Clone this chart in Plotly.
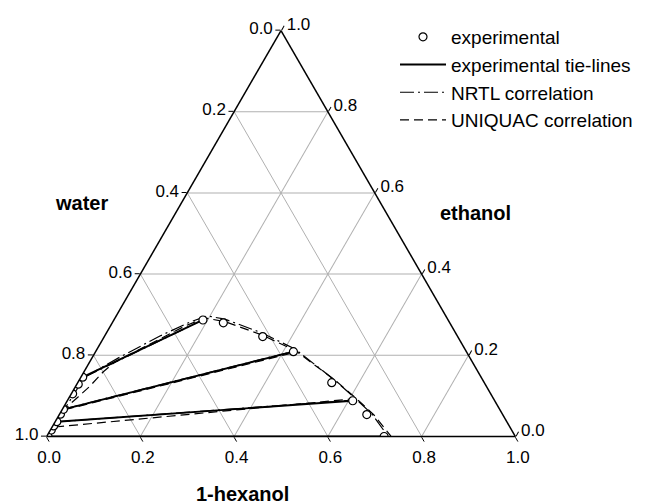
import plotly.graph_objects as go

# ---- data (mass fractions): a = ethanol, b = water, c = 1-hexanol ----
# experimental binodal points
exp_ethanol = [0.000, 0.016, 0.026, 0.0365, 0.055, 0.067, 0.105, 0.129, 0.146,
               0.287, 0.280, 0.246, 0.209, 0.1325, 0.088, 0.054, 0.000]
exp_hexanol = [0.003, 0.002, 0.002, 0.0035, 0.002, 0.0025, 0.003, 0.003, 0.004,
               0.190, 0.237, 0.338, 0.422, 0.542, 0.609, 0.656, 0.720]

# experimental tie-lines (aqueous end, organic end)
tie_aq_ethanol = [0.146, 0.067, 0.0365, 0.000]
tie_aq_hexanol = [0.004, 0.0025, 0.0035, 0.003]
tie_org_ethanol = [0.287, 0.209, 0.088, 0.000]
tie_org_hexanol = [0.190, 0.422, 0.609, 0.720]

# NRTL correlation binodal
nrtl_ethanol = [0.000, 0.030, 0.060, 0.100, 0.146, 0.196, 0.2475, 0.282, 0.297,
                0.289, 0.255, 0.2155, 0.139, 0.0924, 0.0554, 0.001]
nrtl_hexanol = [0.002, 0.003, 0.004, 0.006, 0.008, 0.059, 0.118, 0.165, 0.194,
                0.236, 0.332, 0.422, 0.545, 0.6137, 0.6663, 0.7275]
# NRTL calculated tie-lines
nrtl_tie_aq_ethanol = [0.146, 0.068, 0.036]
nrtl_tie_aq_hexanol = [0.007, 0.004, 0.003]
nrtl_tie_org_ethanol = [0.289, 0.211, 0.090]
nrtl_tie_org_hexanol = [0.192, 0.425, 0.612]

# UNIQUAC correlation binodal
uniq_ethanol = [0.000, 0.016, 0.033, 0.058, 0.080, 0.0973, 0.1244, 0.1589, 0.1835,
                0.2278, 0.2722, 0.2919, 0.283, 0.250, 0.2106, 0.1367, 0.0899, 0.053, 0.001]
uniq_hexanol = [0.002, 0.002, 0.003, 0.004, 0.010, 0.0185, 0.0306, 0.041, 0.054,
                0.1068, 0.1592, 0.192, 0.239, 0.3345, 0.4267, 0.549, 0.6193, 0.6718, 0.734]
# UNIQUAC calculated tie-lines
uniq_tie_aq_ethanol = [0.066, 0.0234]
uniq_tie_aq_hexanol = [0.006, 0.0064]
uniq_tie_org_ethanol = [0.208, 0.0924]
uniq_tie_org_hexanol = [0.428, 0.6052]

tick_vals = [0.0, 0.2, 0.4, 0.6, 0.8, 1.0]

W, H = 650, 504
OFF = 8  # page body margin of the html page


def px_x(v):
    return (v - OFF) / W


def px_y(v):
    return 1 - (v - OFF) / H


def comp_b(aa, cc):
    return [None if x is None else round(1 - x - y, 4) for x, y in zip(aa, cc)]


def segments(a1, c1, a2, c2):
    aa, cc = [], []
    for p, q, r, s in zip(a1, c1, a2, c2):
        aa += [p, r, None]
        cc += [q, s, None]
    return aa, cc


fig = go.Figure()

# experimental tie-lines
ta, tc = segments(tie_aq_ethanol, tie_aq_hexanol, tie_org_ethanol, tie_org_hexanol)
fig.add_trace(go.Scatterternary(
    a=ta, b=comp_b(ta, tc), c=tc, mode="lines", name="experimental tie-lines",
    line=dict(color="black", width=1.9), legendrank=2))

# NRTL
na, nc = segments(nrtl_tie_aq_ethanol, nrtl_tie_aq_hexanol,
                  nrtl_tie_org_ethanol, nrtl_tie_org_hexanol)
na = nrtl_ethanol + [None] + na
nc = nrtl_hexanol + [None] + nc
fig.add_trace(go.Scatterternary(
    a=na, b=comp_b(na, nc), c=nc, mode="lines", name="NRTL correlation",
    line=dict(color="black", width=1.2, dash="14px,4px,2px,4px"), legendrank=3))

# UNIQUAC
ua, uc = segments(uniq_tie_aq_ethanol, uniq_tie_aq_hexanol,
                  uniq_tie_org_ethanol, uniq_tie_org_hexanol)
ua = uniq_ethanol + [None] + ua
uc = uniq_hexanol + [None] + uc
fig.add_trace(go.Scatterternary(
    a=ua, b=comp_b(ua, uc), c=uc, mode="lines", name="UNIQUAC correlation",
    line=dict(color="black", width=1.2, dash="9px,5px"), legendrank=4))

# experimental points
fig.add_trace(go.Scatterternary(
    a=exp_ethanol, b=comp_b(exp_ethanol, exp_hexanol), c=exp_hexanol,
    mode="markers", name="experimental",
    marker=dict(symbol="circle", size=8, color="white",
                line=dict(color="black", width=1.2)), legendrank=1))

FONT = "Liberation Sans, Arial, sans-serif"
tick_font = dict(family=FONT, size=17, color="black")


def axis(ticktext):
    return dict(title=dict(text=""), min=0, tickmode="array", tickvals=tick_vals,
                ticktext=ticktext, ticks="outside", ticklen=5, tickcolor="black",
                tickfont=tick_font, linecolor="black", linewidth=1.5,
                showgrid=True, gridcolor="#b0b0b0", gridwidth=0.8)


inv_text = ["%.1f" % (1 - v) for v in tick_vals]

title_font = dict(family=FONT, size=20, color="black")

fig.update_layout(
    width=W, height=H,
    paper_bgcolor="white",
    margin=dict(l=0, r=0, t=0, b=0, autoexpand=False),
    ternary=dict(
        sum=1,
        domain=dict(x=[px_x(46.5), px_x(515.5)], y=[px_y(436.5), px_y(30.5)]),
        bgcolor="white",
        aaxis=axis(inv_text),
        baxis=axis(inv_text),
        caxis=axis(inv_text),
    ),
    showlegend=True,
    legend=dict(x=px_x(395), y=px_y(18), xanchor="left", yanchor="top",
                bgcolor="rgba(0,0,0,0)", itemwidth=46,
                font=dict(family=FONT, size=19, color="black"),
                traceorder="normal"),
    annotations=[
        dict(text="<b>water</b>", x=px_x(81), y=px_y(203), xref="paper", yref="paper",
             xanchor="center", yanchor="middle", showarrow=False, font=title_font),
        dict(text="<b>ethanol</b>", x=px_x(475), y=px_y(213), xref="paper", yref="paper",
             xanchor="center", yanchor="middle", showarrow=False, font=title_font),
        dict(text="<b>1-hexanol</b>", x=px_x(242), y=px_y(494), xref="paper", yref="paper",
             xanchor="center", yanchor="middle", showarrow=False, font=title_font),
    ],
)

fig.write_html("out.html")
